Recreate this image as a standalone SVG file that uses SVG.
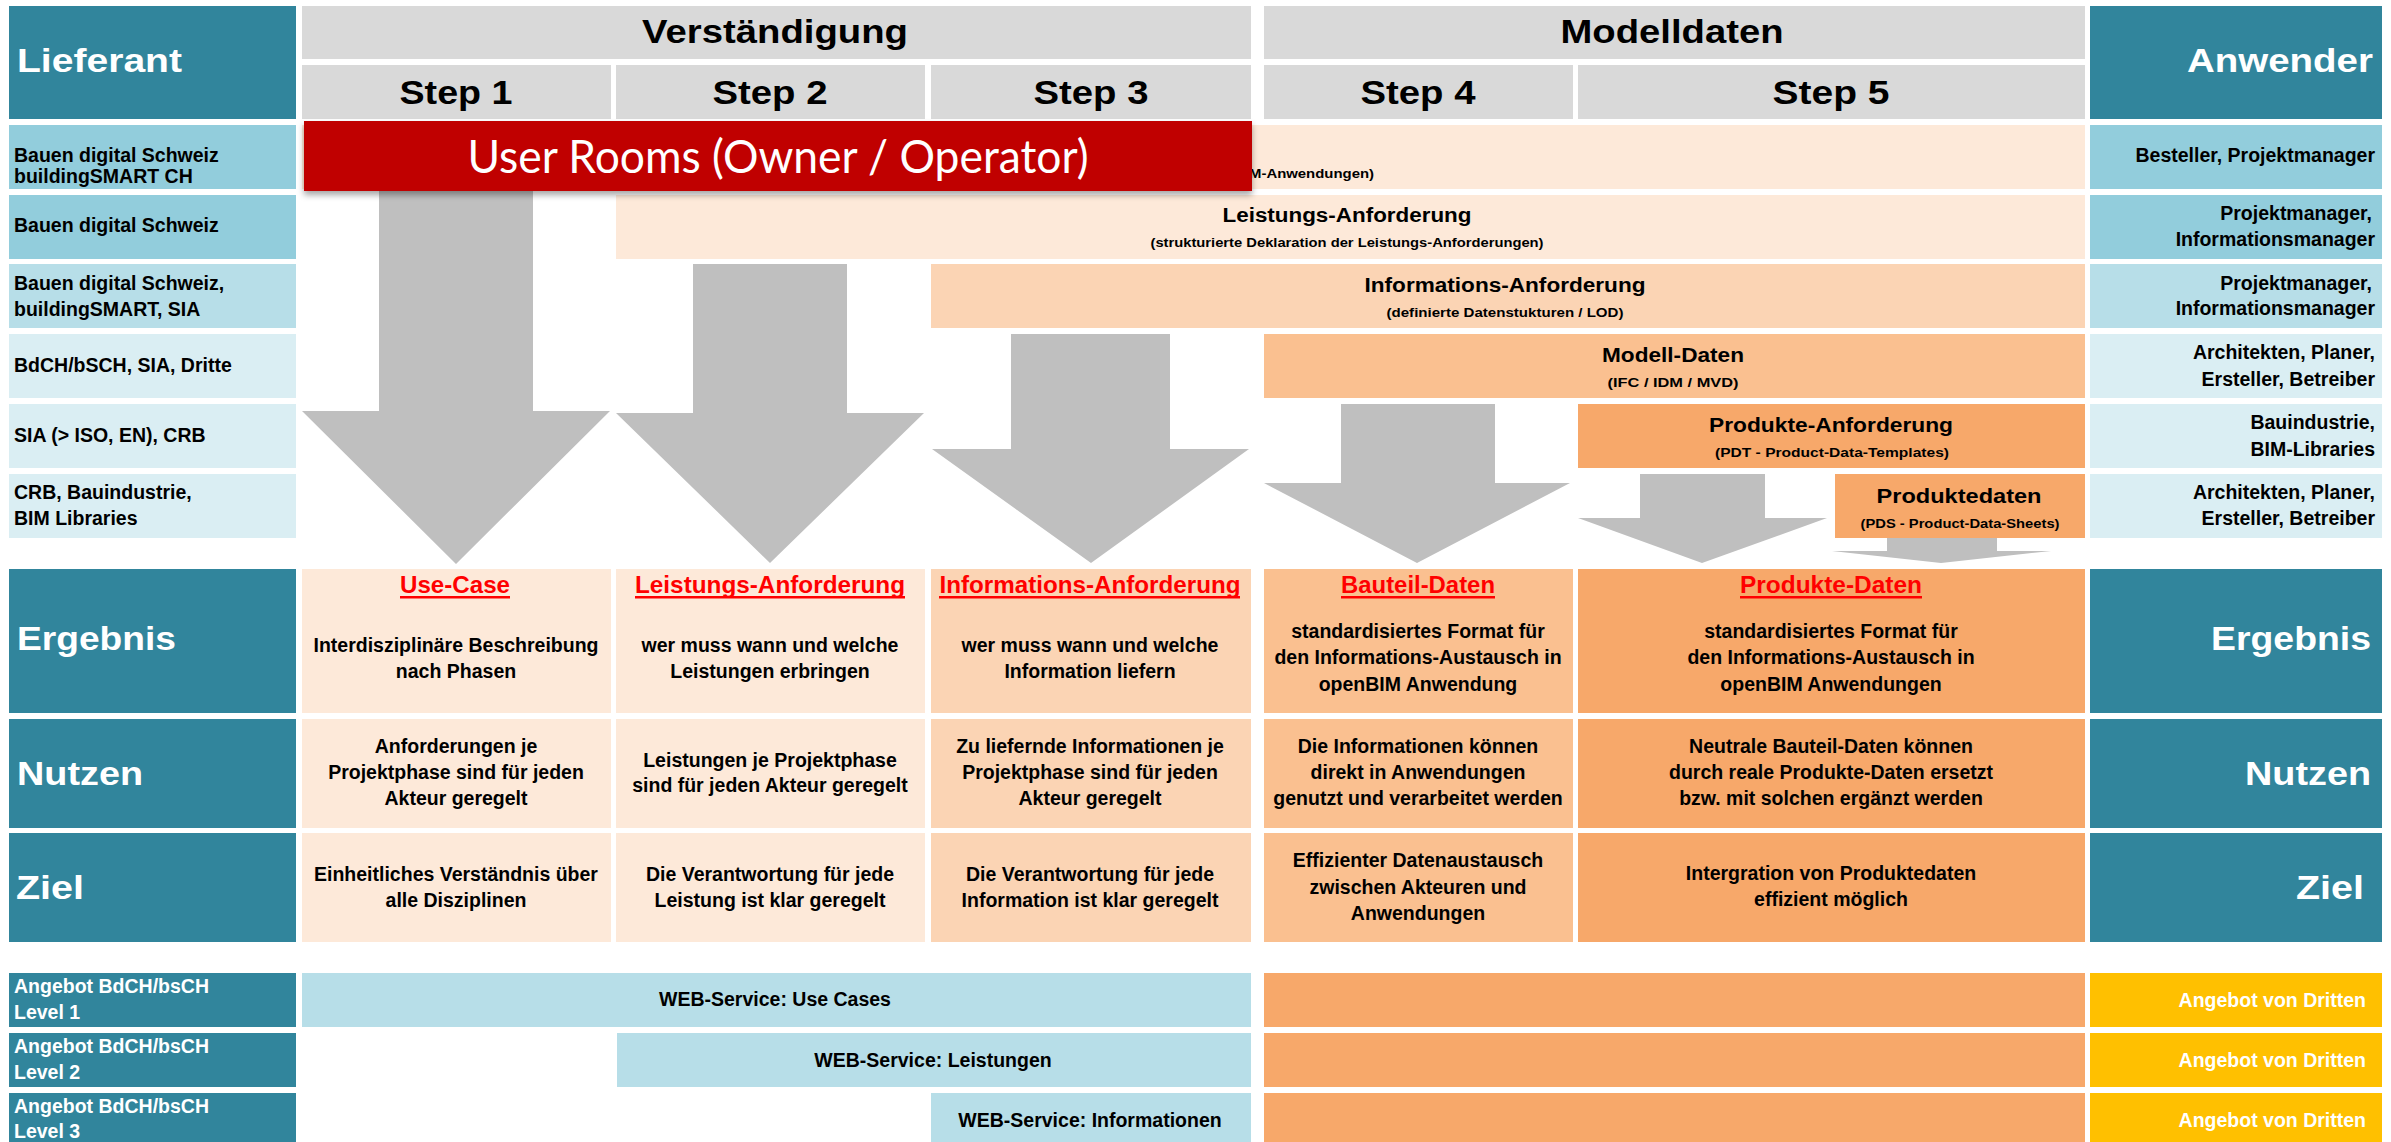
<svg xmlns="http://www.w3.org/2000/svg" width="2391" height="1142" viewBox="0 0 2391 1142">
<style>
.t{font-family:"Liberation Sans",Arial,sans-serif;font-weight:bold;fill:#000}
.w{fill:#fff}
.hd{font-size:33px}
.big{font-size:33px}
.lb{font-size:19.5px}
.tt{font-size:20px}
.st{font-size:13px}
.rt{font-size:24px;fill:#FF0000}
.m{text-anchor:middle}
.e{text-anchor:end}
.teal{fill:#31859C}
.gray{fill:#D9D9D9}
.b1{fill:#92CDDC}
.b2{fill:#B7DEE8}
.b3{fill:#DAEEF3}
.p1{fill:#FDE9D9}
.p2{fill:#FBD4B4}
.p3{fill:#FAC090}
.p4{fill:#F7A86A}
.y{fill:#FFC000}
.arr{fill:#BFBFBF}
.ul{fill:#FF0000}
</style>
<defs>
<filter id="sh" x="-5%" y="-20%" width="110%" height="160%">
<feDropShadow dx="0" dy="4" stdDeviation="3" flood-color="#000" flood-opacity="0.35"/>
</filter>
</defs>
<rect width="2391" height="1142" fill="#fff"/>

<g id="header">
<rect class="teal" x="9" y="6" width="287" height="113"/>
<text class="t w big" x="17" y="72" textLength="165" lengthAdjust="spacingAndGlyphs">Lieferant</text>
<rect class="gray" x="302" y="6" width="949" height="53"/>
<text class="t hd m" x="775" y="43" textLength="266" lengthAdjust="spacingAndGlyphs">Verständigung</text>
<rect class="gray" x="1264" y="6" width="821" height="53"/>
<text class="t hd m" x="1672" y="43" textLength="223" lengthAdjust="spacingAndGlyphs">Modelldaten</text>
<rect class="teal" x="2090" y="6" width="292" height="113"/>
<text class="t w big e" x="2373" y="72" textLength="186" lengthAdjust="spacingAndGlyphs">Anwender</text>
<rect class="gray" x="302" y="65" width="309" height="54"/>
<text class="t hd m" x="456" y="104" textLength="113" lengthAdjust="spacingAndGlyphs">Step 1</text>
<rect class="gray" x="616" y="65" width="309" height="54"/>
<text class="t hd m" x="770" y="104" textLength="115" lengthAdjust="spacingAndGlyphs">Step 2</text>
<rect class="gray" x="931" y="65" width="320" height="54"/>
<text class="t hd m" x="1091" y="104" textLength="115" lengthAdjust="spacingAndGlyphs">Step 3</text>
<rect class="gray" x="1264" y="65" width="309" height="54"/>
<text class="t hd m" x="1418" y="104" textLength="115" lengthAdjust="spacingAndGlyphs">Step 4</text>
<rect class="gray" x="1578" y="65" width="507" height="54"/>
<text class="t hd m" x="1831" y="104" textLength="117" lengthAdjust="spacingAndGlyphs">Step 5</text>
</g>

<g id="left-labels">
<rect class="b1" x="9" y="125" width="287" height="64"/>
<text class="t lb" x="14" y="162">Bauen digital Schweiz</text>
<text class="t lb" x="14" y="183">buildingSMART CH</text>
<rect class="b1" x="9" y="195" width="287" height="64"/>
<text class="t lb" x="14" y="232">Bauen digital Schweiz</text>
<rect class="b2" x="9" y="264" width="287" height="64"/>
<text class="t lb" x="14" y="290">Bauen digital Schweiz,</text>
<text class="t lb" x="14" y="316">buildingSMART, SIA</text>
<rect class="b3" x="9" y="334" width="287" height="64"/>
<text class="t lb" x="14" y="372">BdCH/bSCH, SIA, Dritte</text>
<rect class="b3" x="9" y="404" width="287" height="64"/>
<text class="t lb" x="14" y="442">SIA (&gt; ISO, EN), CRB</text>
<rect class="b3" x="9" y="474" width="287" height="64"/>
<text class="t lb" x="14" y="499">CRB, Bauindustrie,</text>
<text class="t lb" x="14" y="525">BIM Libraries</text>
</g>

<g id="right-labels">
<rect class="b1" x="2090" y="125" width="292" height="64"/>
<text class="t lb e" x="2375" y="162">Besteller, Projektmanager</text>
<rect class="b1" x="2090" y="195" width="292" height="64"/>
<text class="t lb e" x="2372" y="220">Projektmanager,</text>
<text class="t lb e" x="2375" y="246">Informationsmanager</text>
<rect class="b2" x="2090" y="264" width="292" height="64"/>
<text class="t lb e" x="2372" y="290">Projektmanager,</text>
<text class="t lb e" x="2375" y="315">Informationsmanager</text>
<rect class="b3" x="2090" y="334" width="292" height="64"/>
<text class="t lb e" x="2375" y="359">Architekten, Planer,</text>
<text class="t lb e" x="2375" y="386">Ersteller, Betreiber</text>
<rect class="b3" x="2090" y="404" width="292" height="64"/>
<text class="t lb e" x="2375" y="429">Bauindustrie,</text>
<text class="t lb e" x="2375" y="456">BIM-Libraries</text>
<rect class="b3" x="2090" y="474" width="292" height="64"/>
<text class="t lb e" x="2375" y="499">Architekten, Planer,</text>
<text class="t lb e" x="2375" y="525">Ersteller, Betreiber</text>
</g>

<g id="bars">
<rect class="p1" x="302" y="125" width="1783" height="64"/>
<text class="t st" x="1249" y="178" textLength="125" lengthAdjust="spacingAndGlyphs">M-Anwendungen)</text>
<rect class="p1" x="616" y="195" width="1469" height="64"/>
<text class="t tt m" x="1347" y="222" textLength="249" lengthAdjust="spacingAndGlyphs">Leistungs-Anforderung</text>
<text class="t st m" x="1347" y="247" textLength="393" lengthAdjust="spacingAndGlyphs">(strukturierte Deklaration der Leistungs-Anforderungen)</text>
<rect class="p2" x="931" y="264" width="1154" height="64"/>
<text class="t tt m" x="1505" y="292" textLength="281" lengthAdjust="spacingAndGlyphs">Informations-Anforderung</text>
<text class="t st m" x="1505" y="317" textLength="237" lengthAdjust="spacingAndGlyphs">(definierte Datenstukturen / LOD)</text>
<rect class="p3" x="1264" y="334" width="821" height="64"/>
<text class="t tt m" x="1673" y="362" textLength="142" lengthAdjust="spacingAndGlyphs">Modell-Daten</text>
<text class="t st m" x="1673" y="387" textLength="131" lengthAdjust="spacingAndGlyphs">(IFC / IDM / MVD)</text>
<rect class="p4" x="1578" y="404" width="507" height="64"/>
<text class="t tt m" x="1831" y="432" textLength="244" lengthAdjust="spacingAndGlyphs">Produkte-Anforderung</text>
<text class="t st m" x="1832" y="457" textLength="234" lengthAdjust="spacingAndGlyphs">(PDT - Product-Data-Templates)</text>
<rect class="p4" x="1835" y="474" width="250" height="64"/>
<text class="t tt m" x="1959" y="503" textLength="165" lengthAdjust="spacingAndGlyphs">Produktedaten</text>
<text class="t st m" x="1960" y="528" textLength="199" lengthAdjust="spacingAndGlyphs">(PDS - Product-Data-Sheets)</text>
</g>

<g id="arrows">
<polygon class="arr" points="379,191 533,191 533,411 610,411 456,564 302,411 379,411"/>
<polygon class="arr" points="693,264 847,264 847,413 924,413 770,563 616,413 693,413"/>
<polygon class="arr" points="1011,334 1170,334 1170,449 1249,449 1091,563 932,449 1011,449"/>
<polygon class="arr" points="1341,404 1495,404 1495,483 1570,483 1417,563 1264,483 1341,483"/>
<polygon class="arr" points="1640,474 1765,474 1765,518 1827,518 1702,563 1578,518 1640,518"/>
<polygon class="arr" points="1887,538 1997,538 1997,551 2051,551 1941,563 1832,551 1887,551"/>
</g>

<g id="banner">
<rect x="304" y="121" width="948" height="70" fill="#C00000" filter="url(#sh)"/>
<text x="778" y="173" text-anchor="middle" font-family="Lato,'Open Sans',sans-serif" font-size="46" fill="#fff" textLength="621" lengthAdjust="spacingAndGlyphs">User Rooms (Owner / Operator)</text>
</g>

<g id="ergebnis">
<rect class="teal" x="9" y="569" width="287" height="144"/>
<text class="t w big" x="17" y="650" textLength="159" lengthAdjust="spacingAndGlyphs">Ergebnis</text>
<rect class="teal" x="2090" y="569" width="292" height="144"/>
<text class="t w big e" x="2371" y="650" textLength="160" lengthAdjust="spacingAndGlyphs">Ergebnis</text>

<rect class="p1" x="302" y="569" width="309" height="144"/>
<text class="t rt m" x="455" y="593" textLength="110" lengthAdjust="spacingAndGlyphs">Use-Case</text>
<rect class="ul" x="400" y="596" width="110" height="2.5"/>
<text class="t lb m" x="456" y="652">Interdisziplinäre Beschreibung</text>
<text class="t lb m" x="456" y="678">nach Phasen</text>

<rect class="p1" x="616" y="569" width="309" height="144"/>
<text class="t rt m" x="770" y="593" textLength="270" lengthAdjust="spacingAndGlyphs">Leistungs-Anforderung</text>
<rect class="ul" x="635" y="596" width="270" height="2.5"/>
<text class="t lb m" x="770" y="652">wer muss wann und welche</text>
<text class="t lb m" x="770" y="678">Leistungen erbringen</text>

<rect class="p2" x="931" y="569" width="320" height="144"/>
<text class="t rt m" x="1090" y="593" textLength="301" lengthAdjust="spacingAndGlyphs">Informations-Anforderung</text>
<rect class="ul" x="939" y="596" width="301" height="2.5"/>
<text class="t lb m" x="1090" y="652">wer muss wann und welche</text>
<text class="t lb m" x="1090" y="678">Information liefern</text>

<rect class="p3" x="1264" y="569" width="309" height="144"/>
<text class="t rt m" x="1418" y="593" textLength="154" lengthAdjust="spacingAndGlyphs">Bauteil-Daten</text>
<rect class="ul" x="1341" y="596" width="154" height="2.5"/>
<text class="t lb m" x="1418" y="638">standardisiertes Format für</text>
<text class="t lb m" x="1418" y="664">den Informations-Austausch in</text>
<text class="t lb m" x="1418" y="691">openBIM Anwendung</text>

<rect class="p4" x="1578" y="569" width="507" height="144"/>
<text class="t rt m" x="1831" y="593" textLength="182" lengthAdjust="spacingAndGlyphs">Produkte-Daten</text>
<rect class="ul" x="1740" y="596" width="182" height="2.5"/>
<text class="t lb m" x="1831" y="638">standardisiertes Format für</text>
<text class="t lb m" x="1831" y="664">den Informations-Austausch in</text>
<text class="t lb m" x="1831" y="691">openBIM Anwendungen</text>
</g>

<g id="nutzen">
<rect class="teal" x="9" y="719" width="287" height="109"/>
<text class="t w big" x="17" y="785" textLength="126" lengthAdjust="spacingAndGlyphs">Nutzen</text>
<rect class="teal" x="2090" y="719" width="292" height="109"/>
<text class="t w big e" x="2371" y="785" textLength="126" lengthAdjust="spacingAndGlyphs">Nutzen</text>

<rect class="p1" x="302" y="719" width="309" height="109"/>
<text class="t lb m" x="456" y="753">Anforderungen je</text>
<text class="t lb m" x="456" y="779">Projektphase sind für jeden</text>
<text class="t lb m" x="456" y="805">Akteur geregelt</text>

<rect class="p1" x="616" y="719" width="309" height="109"/>
<text class="t lb m" x="770" y="767">Leistungen je Projektphase</text>
<text class="t lb m" x="770" y="792">sind für jeden Akteur geregelt</text>

<rect class="p2" x="931" y="719" width="320" height="109"/>
<text class="t lb m" x="1090" y="753">Zu liefernde Informationen je</text>
<text class="t lb m" x="1090" y="779">Projektphase sind für jeden</text>
<text class="t lb m" x="1090" y="805">Akteur geregelt</text>

<rect class="p3" x="1264" y="719" width="309" height="109"/>
<text class="t lb m" x="1418" y="753">Die Informationen können</text>
<text class="t lb m" x="1418" y="779">direkt in Anwendungen</text>
<text class="t lb m" x="1418" y="805">genutzt und verarbeitet werden</text>

<rect class="p4" x="1578" y="719" width="507" height="109"/>
<text class="t lb m" x="1831" y="753">Neutrale Bauteil-Daten können</text>
<text class="t lb m" x="1831" y="779">durch reale Produkte-Daten ersetzt</text>
<text class="t lb m" x="1831" y="805">bzw. mit solchen ergänzt werden</text>
</g>

<g id="ziel">
<rect class="teal" x="9" y="833" width="287" height="109"/>
<text class="t w big" x="16" y="899" textLength="68" lengthAdjust="spacingAndGlyphs">Ziel</text>
<rect class="teal" x="2090" y="833" width="292" height="109"/>
<text class="t w big e" x="2364" y="899" textLength="68" lengthAdjust="spacingAndGlyphs">Ziel</text>

<rect class="p1" x="302" y="833" width="309" height="109"/>
<text class="t lb m" x="456" y="881">Einheitliches Verständnis über</text>
<text class="t lb m" x="456" y="907">alle Disziplinen</text>

<rect class="p1" x="616" y="833" width="309" height="109"/>
<text class="t lb m" x="770" y="881">Die Verantwortung für jede</text>
<text class="t lb m" x="770" y="907">Leistung ist klar geregelt</text>

<rect class="p2" x="931" y="833" width="320" height="109"/>
<text class="t lb m" x="1090" y="881">Die Verantwortung für jede</text>
<text class="t lb m" x="1090" y="907">Information ist klar geregelt</text>

<rect class="p3" x="1264" y="833" width="309" height="109"/>
<text class="t lb m" x="1418" y="867">Effizienter Datenaustausch</text>
<text class="t lb m" x="1418" y="894">zwischen Akteuren und</text>
<text class="t lb m" x="1418" y="920">Anwendungen</text>

<rect class="p4" x="1578" y="833" width="507" height="109"/>
<text class="t lb m" x="1831" y="880">Intergration von Produktedaten</text>
<text class="t lb m" x="1831" y="906">effizient möglich</text>
</g>

<g id="level1">
<rect class="teal" x="9" y="973" width="287" height="54"/>
<text class="t w lb" x="14" y="993">Angebot BdCH/bsCH</text>
<text class="t w lb" x="14" y="1019">Level 1</text>
<rect class="b2" x="302" y="973" width="949" height="54"/>
<text class="t lb m" x="775" y="1006">WEB-Service: Use Cases</text>
<rect class="p4" x="1264" y="973" width="821" height="54"/>
<rect class="y" x="2090" y="973" width="292" height="54"/>
<text class="t w lb e" x="2366" y="1007">Angebot von Dritten</text>
</g>
<g id="level2">
<rect class="teal" x="9" y="1033" width="287" height="54"/>
<text class="t w lb" x="14" y="1053">Angebot BdCH/bsCH</text>
<text class="t w lb" x="14" y="1079">Level 2</text>
<rect class="b2" x="617" y="1033" width="634" height="54"/>
<text class="t lb m" x="933" y="1067">WEB-Service: Leistungen</text>
<rect class="p4" x="1264" y="1033" width="821" height="54"/>
<rect class="y" x="2090" y="1033" width="292" height="54"/>
<text class="t w lb e" x="2366" y="1067">Angebot von Dritten</text>
</g>
<g id="level3">
<rect class="teal" x="9" y="1093" width="287" height="49"/>
<text class="t w lb" x="14" y="1113">Angebot BdCH/bsCH</text>
<text class="t w lb" x="14" y="1138">Level 3</text>
<rect class="b2" x="931" y="1093" width="320" height="49"/>
<text class="t lb m" x="1090" y="1127">WEB-Service: Informationen</text>
<rect class="p4" x="1264" y="1093" width="821" height="49"/>
<rect class="y" x="2090" y="1093" width="292" height="49"/>
<text class="t w lb e" x="2366" y="1127">Angebot von Dritten</text>
</g>
</svg>
